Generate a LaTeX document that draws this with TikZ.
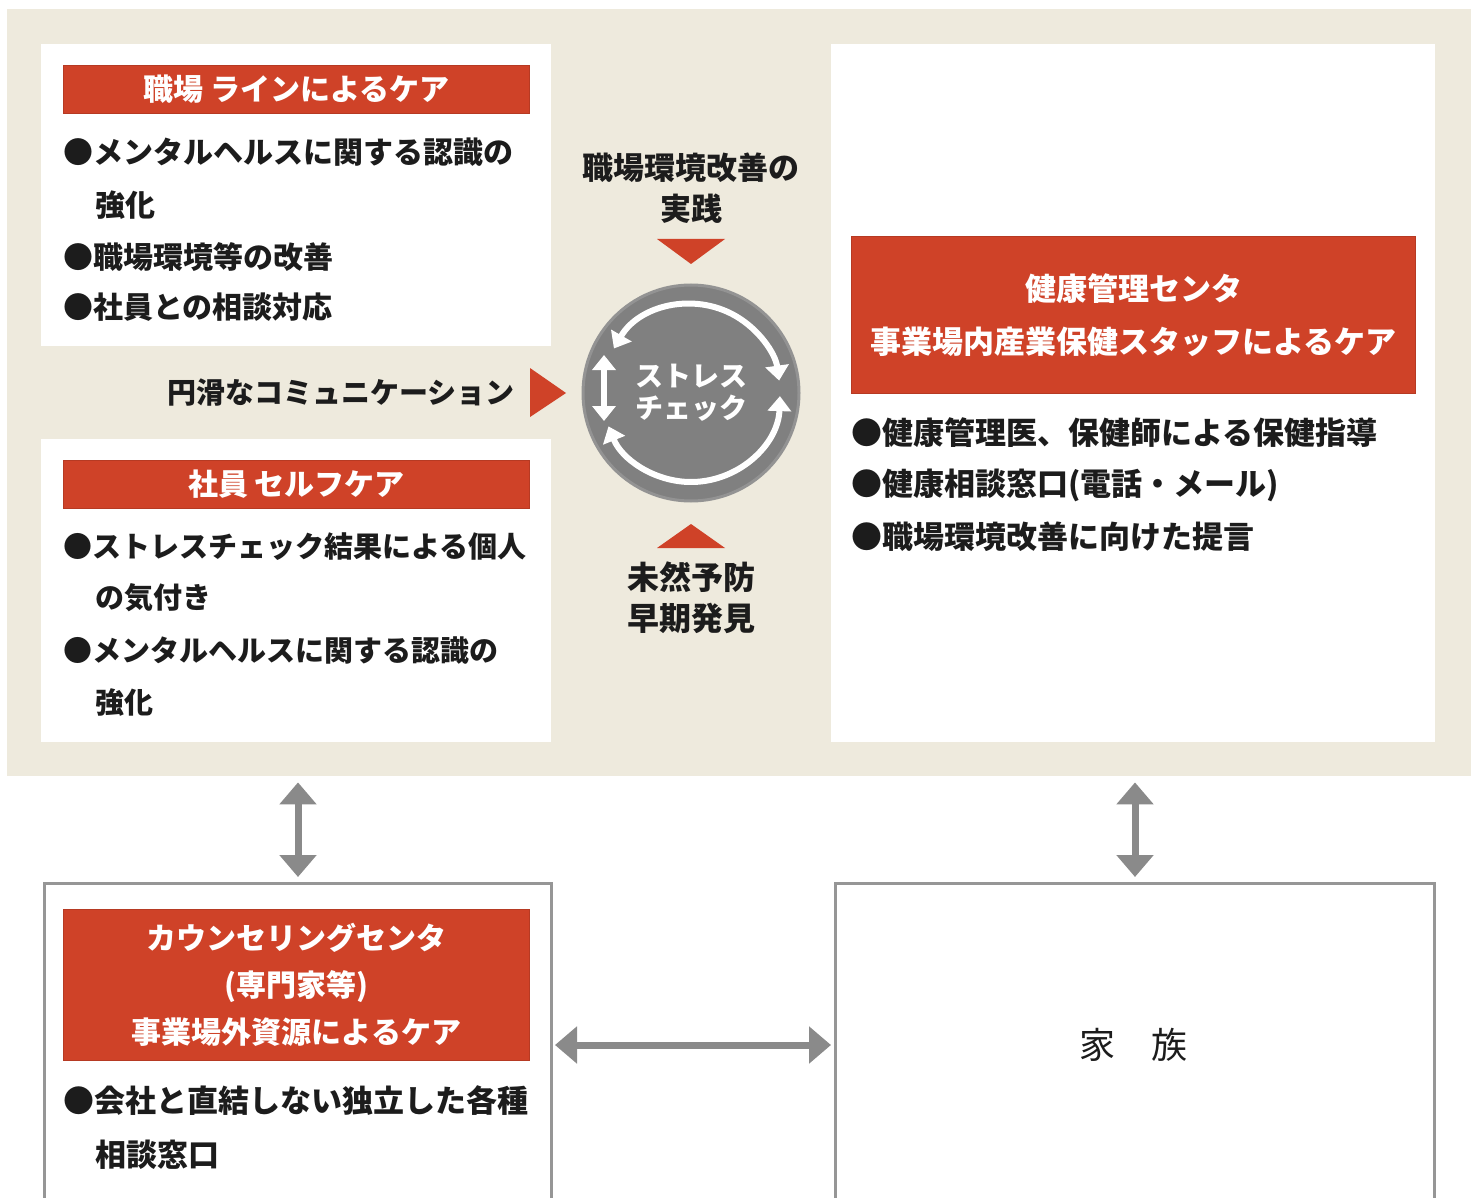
\documentclass[tikz,border=0pt]{standalone}
\usepackage{fontspec}
\newfontfamily\jp{Noto Sans CJK JP}
\newcommand{\jpm}{\jp\bfseries}
\newcommand{\jpb}{\jp\bfseries}
\usetikzlibrary{arrows.meta,calc}
\definecolor{beige}{RGB}{238,234,221}
\definecolor{carered}{RGB}{207,66,40}
\definecolor{garr}{RGB}{138,138,138}
\definecolor{bord}{RGB}{150,150,150}
\definecolor{cgray}{RGB}{128,128,128}
\definecolor{txt}{RGB}{28,28,28}
\tikzset{
  panel/.style={fill=white, inner sep=0, anchor=north west},
  hdr/.style={fill=carered, draw=carered!88!black, line width=1pt, inner sep=0, anchor=north west, text=white, align=center},
  item/.style={anchor=west, inner sep=0, text=txt},
  lbl/.style={align=center, inner sep=0, text=txt},
  outbox/.style={draw=bord, line width=3pt, fill=white, inner sep=0, anchor=north west},
  garrow/.style={draw=garr, line width=7pt, {Triangle[length=22pt,width=36pt]}-{Triangle[length=22pt,width=36pt]}},
  warrow/.style={draw=white, line width=6pt, {Triangle[length=15pt,width=23pt]}-{Triangle[length=15pt,width=23pt]}},
  tri/.style={fill=carered}
}
\begin{document}
\begin{tikzpicture}[x=1pt,y=-1pt]
\clip (0,0) rectangle (1477,1198);
\fill[white] (0,0) rectangle (1477,1198);
% background panel
\node[panel, fill=beige, minimum width=1464pt, minimum height=767pt] (bg) at (7,9) {};
% top-left box
\node[panel, minimum width=510pt, minimum height=302pt] (tl) at (41,44) {};
\node[hdr, minimum width=466pt, minimum height=48pt, font=\jpb\fontsize{30}{30}\selectfont] (tlh) at (63,65) {職場 ラインによるケア};
\node[item, font=\jpm\fontsize{30}{30}\selectfont] (tl1) at (63,152) {●メンタルヘルスに関する認識の};
\node[item, font=\jpm\fontsize{30}{30}\selectfont] (tl2) at (95,205) {強化};
\node[item, font=\jpm\fontsize{30}{30}\selectfont] (tl3) at (63,257) {●職場環境等の改善};
\node[item, font=\jpm\fontsize{30}{30}\selectfont] (tl4) at (63,307) {●社員との相談対応};
% self-care box
\node[panel, minimum width=510pt, minimum height=303pt] (bl) at (41,439) {};
\node[hdr, minimum width=466pt, minimum height=48pt, font=\jpb\fontsize{30}{30}\selectfont] (blh) at (63,460) {社員 セルフケア};
\node[item, font=\jpm\fontsize{29}{29}\selectfont] (bl1) at (63,547) {●ストレスチェック結果による個人};
\node[item, font=\jpm\fontsize{29}{29}\selectfont] (bl2) at (95,598) {の気付き};
\node[item, font=\jpm\fontsize{29}{29}\selectfont] (bl3) at (63,651) {●メンタルヘルスに関する認識の};
\node[item, font=\jpm\fontsize{29}{29}\selectfont] (bl4) at (95,703) {強化};
% right box
\node[panel, minimum width=604pt, minimum height=698pt] (rb) at (831,44) {};
\node[hdr, minimum width=564pt, minimum height=157pt, font=\jpb\fontsize{31}{53}\selectfont] (rbh) at (851,236) {健康管理センタ\\事業場内産業保健スタッフによるケア};
\node[item, font=\jpm\fontsize{31}{31}\selectfont] (rb1) at (851,433) {●健康管理医、保健師による保健指導};
\node[item, font=\jpm\fontsize{31}{31}\selectfont] (rb2) at (851,485) {●健康相談窓口(電話・メール)};
\node[item, font=\jpm\fontsize{31}{31}\selectfont] (rb3) at (851,537) {●職場環境改善に向けた提言};
% middle
\node[lbl, font=\jpm\fontsize{31}{41}\selectfont] (kz) at (691,188) {職場環境改善の\\実践};
\node[lbl, font=\jpm\fontsize{32}{41}\selectfont] (yb) at (691,598) {未然予防\\早期発見};
\node[lbl, font=\jpm\fontsize{29}{29}\selectfont] (cm) at (341,393) {円滑なコミュニケーション};
\node[circle, fill=cgray, draw=cgray!85!white, line width=3pt, minimum size=216pt, inner sep=0] (sc) at (691,393) {};
\node[lbl, text=white, font=\jpb\fontsize{28}{32}\selectfont] (sct) at (sc.center) {ストレス\\チェック};
\draw[warrow] ($(sc.center)+(-150:89)$) arc[start angle=-150, end angle=-8, radius=89];
\draw[warrow] ($(sc.center)+(2:89)$) arc[start angle=2, end angle=158, radius=89];
\draw[warrow] ($(sc.center)+(-87,-38)$) -- ($(sc.center)+(-87,28)$);
\fill[tri] ($(sc.center)+(-34,-154)$) -- ($(sc.center)+(34,-154)$) -- ($(sc.center)+(0,-129)$) -- cycle;
\fill[tri] ($(sc.center)+(-34,155)$) -- ($(sc.center)+(34,155)$) -- ($(sc.center)+(0,131)$) -- cycle;
\fill[tri] ($(sc.center)+(-161,-25)$) -- ($(sc.center)+(-161,24)$) -- ($(sc.center)+(-125,0)$) -- cycle;
% bottom boxes
\node[outbox, minimum width=507pt, minimum height=360pt] (cl) at (43,882) {};
\node[hdr, minimum width=466pt, minimum height=151pt, font=\jpb\fontsize{30}{47}\selectfont] (clh) at (63,909) {カウンセリングセンタ\\(専門家等)\\事業場外資源によるケア};
\node[item, font=\jpm\fontsize{31}{31}\selectfont] (cl1) at (63,1101) {●会社と直結しない独立した各種};
\node[item, font=\jpm\fontsize{31}{31}\selectfont] (cl2) at (95,1155) {相談窓口};
\node[outbox, minimum width=599pt, minimum height=360pt] (fam) at (834,882) {};
\node[lbl, font=\jp\fontsize{36}{36}\selectfont] (famt) at (1133,1045) {家　族};
% connectors
\draw[garrow] ([yshift=-6pt]bg.south -| cl.north) -- ([yshift=5pt]cl.north);
\draw[garrow] ([yshift=-6pt]bg.south -| fam.north) -- ([yshift=5pt]fam.north);
\draw[garrow] ([xshift=2pt]cl.east |- famt) -- ([xshift=-3pt]fam.west |- famt);
\end{tikzpicture}
\end{document}
